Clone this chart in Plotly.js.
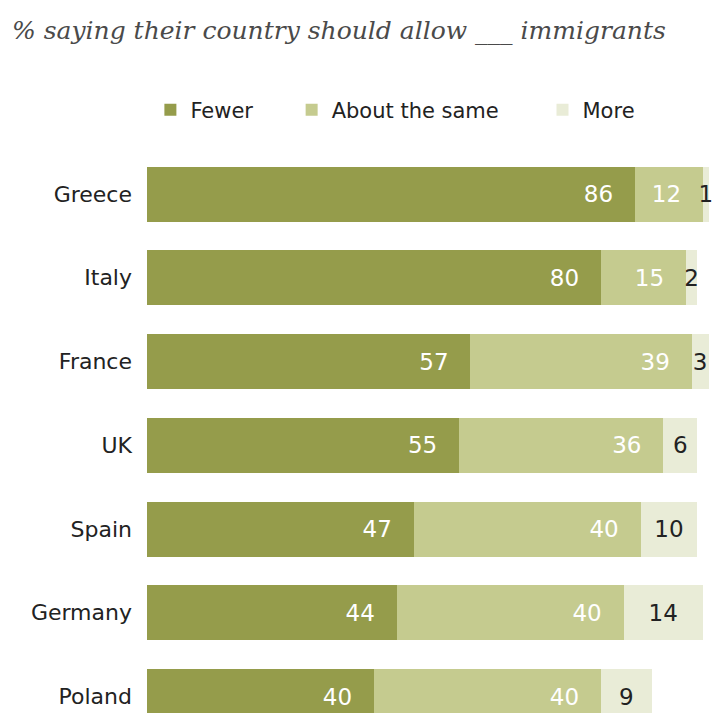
<!DOCTYPE html>
<html>
<head>
<meta charset="utf-8">
<script src="https://cdn.plot.ly/plotly-3.0.1.min.js"></script>
<style>html,body{margin:0;padding:0;background:#fff;}#chart{width:712px;height:713px;}</style>
</head>
<body>
<div id="chart"></div>
<script>
const countries = ['Greece', 'Italy', 'France', 'UK', 'Spain', 'Germany', 'Poland'];
const fewer = [86, 80, 57, 55, 47, 44, 40];
const aboutSame = [12, 15, 39, 36, 40, 40, 40];
const more = [1, 2, 3, 6, 10, 14, 9];
const seriesNames = ['Fewer', 'About the same', 'More'];
const titleText = '% saying their country should allow ___ immigrants';

const colors = ['#959c4b', '#c5cb8f', '#e9ecd7'];
const pad = '\u2002\u00a0';
const labelFont = {family: 'DejaVu Sans', size: 23};

function bar(vals, i, legendId, inside) {
  return {
    type: 'bar', orientation: 'h', name: seriesNames[i],
    y: countries, x: vals,
    marker: {color: colors[i], line: {width: 0}},
    text: vals.map(v => inside ? String(v) + pad : String(v)),
    textposition: 'inside',
    insidetextanchor: inside ? 'end' : 'middle',
    textangle: 0,
    constraintext: 'none',
    insidetextfont: Object.assign({}, labelFont, {color: inside ? '#ffffff' : '#222222'}),
    cliponaxis: false,
    legend: legendId,
    hoverinfo: 'skip'
  };
}

const data = [
  bar(fewer, 0, 'legend', true),
  bar(aboutSame, 1, 'legend2', true),
  bar(more, 2, 'legend3', false)
];

const legendBase = {orientation: 'h', yanchor: 'middle', y: 1.071, xanchor: 'left',
  font: {family: 'DejaVu Sans', size: 21, color: '#222222'}, bgcolor: 'rgba(0,0,0,0)'};

const layout = {
  width: 712, height: 713,
  margin: {l: 147, r: 0, t: 150, b: 0},
  paper_bgcolor: '#ffffff', plot_bgcolor: '#ffffff',
  barmode: 'stack', bargap: 0.343,
  title: {text: titleText, x: 12 / 712, xanchor: 'left', xref: 'container',
    y: 1 - 30 / 713, yanchor: 'middle', yref: 'container',
    font: {family: 'DejaVu Serif', size: 25, style: 'italic', color: '#4a4a4a'}},
  xaxis: {range: [0, 99.6], visible: false, fixedrange: true},
  yaxis: {type: 'category', range: [6.197, -0.526], showgrid: false, zeroline: false,
    showline: false, ticks: '', ticklabelstandoff: 14,
    tickfont: {family: 'DejaVu Sans', size: 22, color: '#222222'}},
  showlegend: true,
  legend: Object.assign({}, legendBase, {x: 0.006}),
  legend2: Object.assign({}, legendBase, {x: 0.256}),
  legend3: Object.assign({}, legendBase, {x: 0.7})
};

Plotly.newPlot('chart', data, layout, {displayModeBar: false, staticPlot: true});
</script>
</body>
</html>
